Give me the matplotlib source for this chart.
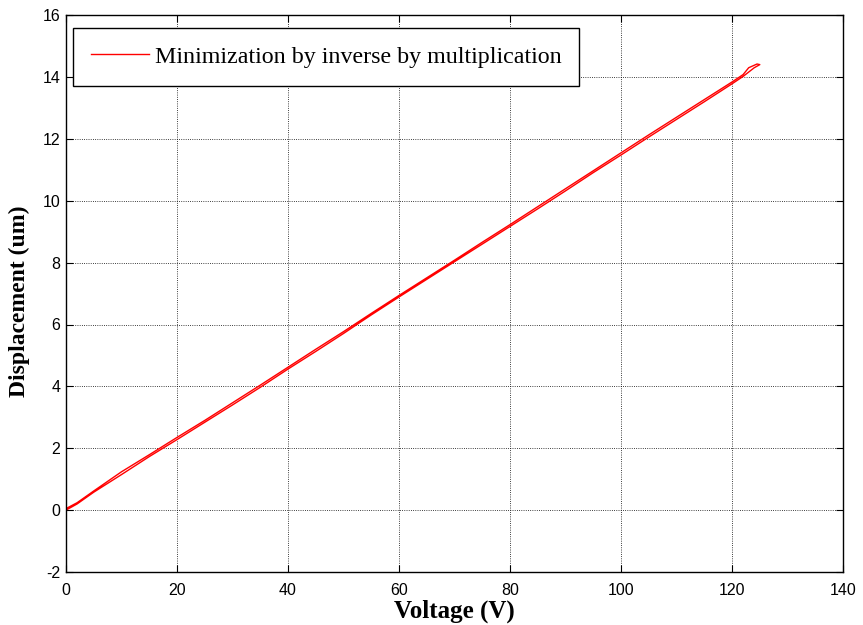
import matplotlib.pyplot as plt

plt.rcParams['axes.unicode_minus'] = False

# Voltage sweep, up and back down
volt_up = [0, 2, 5, 10, 15, 20, 25, 30, 35, 40, 45, 50, 55, 60, 65, 70, 75, 80,
           85, 90, 95, 100, 105, 110, 115, 120, 122, 124, 125]
disp_up = [0.0, 0.20, 0.58, 1.15, 1.73, 2.28, 2.84, 3.40, 3.97, 4.56, 5.13, 5.71,
           6.31, 6.89, 7.46, 8.03, 8.60, 9.17, 9.74, 10.32, 10.91, 11.48, 12.06,
           12.63, 13.20, 13.78, 14.02, 14.30, 14.40]
volt_down = [125, 124.5, 123, 122, 120, 115, 110, 105, 100, 95, 90, 85, 80, 75, 70,
             65, 60, 55, 50, 45, 40, 35, 30, 25, 20, 15, 10, 5, 2, 0]
disp_down = [14.40, 14.42, 14.30, 14.08, 13.84, 13.27, 12.70, 12.13, 11.55, 10.97,
             10.39, 9.81, 9.23, 8.66, 8.08, 7.51, 6.94, 6.36, 5.77, 5.20, 4.62, 4.04,
             3.47, 2.90, 2.35, 1.79, 1.24, 0.62, 0.24, 0.05]

volt = volt_up + volt_down
disp = disp_up + disp_down

fig = plt.figure(figsize=(8.63, 6.25), dpi=100)
ax = fig.add_axes([0.0765, 0.0848, 0.9004, 0.891])

ax.plot(volt, disp, color='red', linewidth=1.0,
        label='Minimization by inverse by multiplication')

ax.set_xlim(0, 140)
ax.set_ylim(-2, 16)
ax.set_xticks(range(0, 141, 20))
ax.set_yticks(range(-2, 17, 2))
ax.tick_params(direction='in', top=True, right=True, labelsize=11.5, length=5)
ax.tick_params(axis='x', pad=8)
ax.tick_params(axis='y', pad=4)
for lbl in ax.get_xticklabels() + ax.get_yticklabels():
    lbl.set_family('Liberation Sans')
ax.grid(True, color='black', linestyle=':', linewidth=0.6)
for s in ax.spines.values():
    s.set_linewidth(1.0)

ax.set_xlabel('Voltage (V)', fontsize=18, fontweight='bold',
              family='Liberation Serif', labelpad=1)
ax.set_ylabel('Displacement (um)', fontsize=17, fontweight='bold',
              family='Liberation Serif')
ax.yaxis.set_label_coords(-0.046, 0.487)

leg = ax.legend(loc='upper left', fancybox=False, framealpha=1, edgecolor='black',
                prop={'family': 'Liberation Serif', 'size': 17.3},
                handlelength=2.4, handletextpad=0.25,
                borderpad=0.75, borderaxespad=0,
                bbox_to_anchor=(0.009, 0.977))
leg.get_frame().set_linewidth(1.0)

fig.savefig('out.png', dpi=100)
